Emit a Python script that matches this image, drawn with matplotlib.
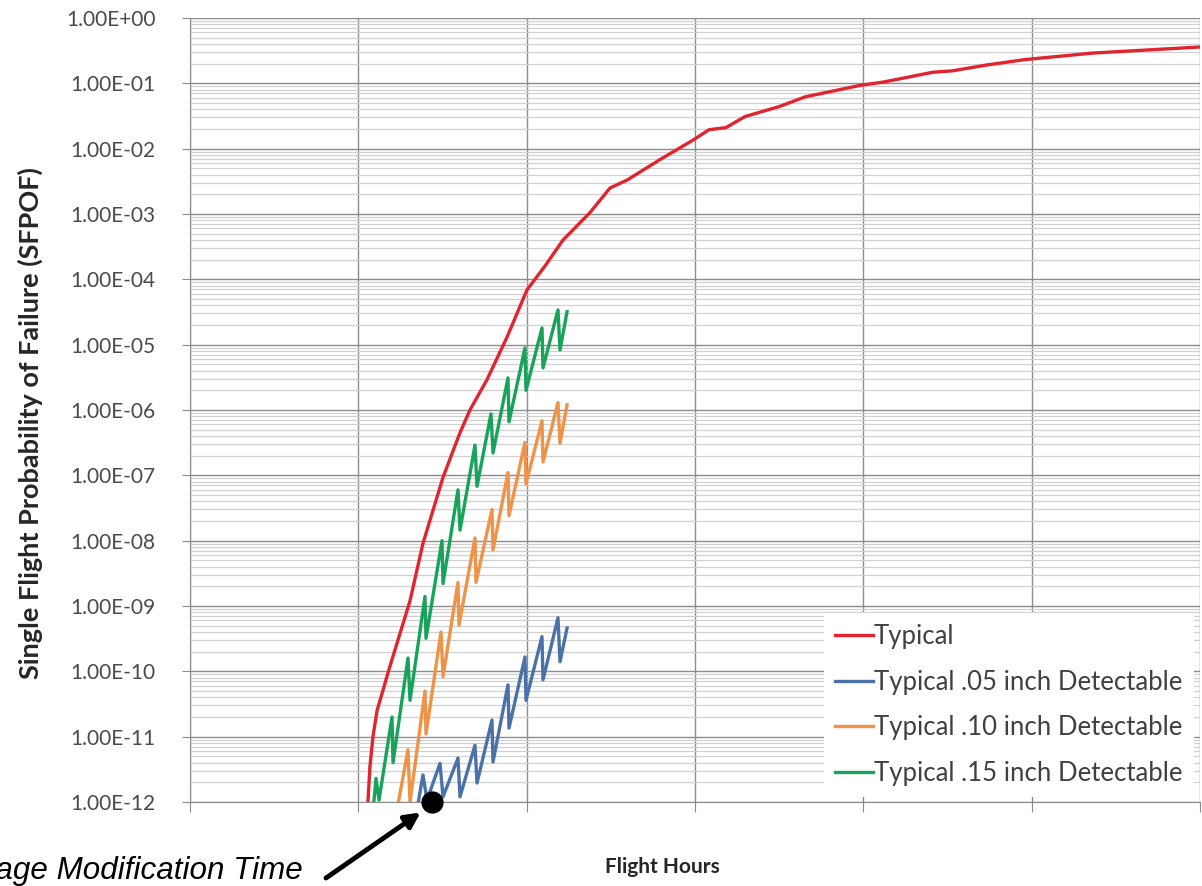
import numpy as np
import matplotlib
matplotlib.use("Agg")
import matplotlib.pyplot as plt
from matplotlib.ticker import LogLocator, FixedLocator, NullFormatter, FixedFormatter

# ---------------- data ----------------
typical_hours = [1045, 1057, 1069, 1087, 1111, 1188, 1307, 1384, 1503, 1604, 1663, 1764,
                 1883, 2002, 2109, 2216, 2376, 2495, 2596, 2792, 2988, 3083, 3184, 3297,
                 3499, 3654, 3980, 4123, 4414, 4527, 4729, 4955, 5359, 6000]
typical_sfpof = [5e-13, 1.0e-12, 3.5e-12, 1.0e-11, 2.5e-11, 1.2e-10, 1.2e-9, 9.1e-9, 9.3e-8,
                 4.5e-7, 1.0e-6, 2.9e-6, 1.3e-5, 6.9e-5, 1.6e-4, 4.0e-4, 1.05e-3, 2.5e-3,
                 3.3e-3, 6.8e-3, 1.35e-2, 1.95e-2, 2.1e-2, 3.1e-2, 4.4e-2, 6.2e-2, 9.3e-2,
                 0.105, 0.148, 0.155, 0.19, 0.23, 0.29, 0.36]

det05_hours = [1343, 1384, 1408, 1485, 1503, 1592, 1604, 1693, 1705, 1794, 1800, 1889,
               1895, 1990, 1996, 2091, 2097, 2186, 2198, 2240]
det05_sfpof = [6.3e-13, 2.6e-12, 1.07e-12, 3.9e-12, 1.2e-12, 4.7e-12, 1.2e-12, 7.4e-12,
               1.95e-12, 1.8e-11, 4.1e-12, 6.2e-11, 1.35e-11, 1.66e-10, 3.6e-11, 3.4e-10,
               7.4e-11, 6.6e-10, 1.4e-10, 4.6e-10]

det10_hours = [1224, 1295, 1307, 1396, 1402, 1491, 1503, 1592, 1598, 1693, 1699, 1794,
               1800, 1889, 1895, 1990, 1996, 2091, 2097, 2186, 2198, 2240]
det10_sfpof = [6.3e-13, 6.3e-12, 1.0e-12, 5.0e-11, 1.1e-11, 4.0e-10, 8.3e-11, 2.3e-9,
               5.1e-10, 1.1e-8, 2.3e-9, 3.0e-8, 7.2e-9, 1.1e-7, 2.4e-8, 3.2e-7, 7.4e-8,
               6.8e-7, 1.6e-7, 1.3e-6, 3.1e-7, 1.2e-6]

det15_hours = [1085, 1105, 1123, 1200, 1206, 1295, 1307, 1396, 1402, 1497, 1503, 1592,
               1604, 1693, 1705, 1788, 1800, 1889, 1895, 1990, 1996, 2091, 2097, 2186,
               2198, 2240]
det15_sfpof = [6.3e-13, 2.3e-12, 1.07e-12, 2.0e-11, 4.0e-12, 1.6e-10, 3.6e-11, 1.4e-9,
               3.2e-10, 1.0e-8, 2.2e-9, 6.0e-8, 1.45e-8, 2.9e-7, 6.8e-8, 8.7e-7, 2.2e-7,
               3.1e-6, 6.6e-7, 8.9e-6, 2.0e-6, 1.8e-5, 4.4e-6, 3.4e-5, 8.3e-6, 3.2e-5]

series_labels = ["Typical", "Typical .05 inch Detectable",
                 "Typical .10 inch Detectable", "Typical .15 inch Detectable"]
y_tick_values = [10.0 ** -k for k in range(0, 13)]
y_tick_labels = ["1.00E+00"] + ["1.00E-%02d" % k for k in range(1, 13)]
x_grid_hours = [0, 1000, 2000, 3000, 4000, 5000, 6000]
mod_time_hours = 1440
mod_time_sfpof = 1e-12
annotation_text = "Usage Modification Time"

# ---------------- figure ----------------
W, H, DPI = 1202, 886, 100
fig = plt.figure(figsize=(W / DPI, H / DPI), dpi=DPI)
ax = fig.add_axes([190 / W, 1 - 802 / H, (1200 - 190) / W, (802 - 18) / H])

colors = ["#E1242D", "#4A72A8", "#EE9347", "#17A35A"]
lw = 2.4
ax.plot(typical_hours, typical_sfpof, color=colors[0], lw=lw, label=series_labels[0],
        solid_joinstyle="round", zorder=5)
ax.plot(det05_hours, det05_sfpof, color=colors[1], lw=lw, label=series_labels[1],
        solid_joinstyle="round", zorder=4)
ax.plot(det10_hours, det10_sfpof, color=colors[2], lw=lw, label=series_labels[2],
        solid_joinstyle="round", zorder=4)
ax.plot(det15_hours, det15_sfpof, color=colors[3], lw=lw, label=series_labels[3],
        solid_joinstyle="round", zorder=4)

ax.set_yscale("log")
ax.set_ylim(1e-12, 1.0)
ax.set_xlim(0, 6000)

ax.yaxis.set_major_locator(FixedLocator(y_tick_values))
ax.yaxis.set_major_formatter(FixedFormatter(y_tick_labels))
ax.yaxis.set_minor_locator(LogLocator(base=10, subs=np.arange(2, 10), numticks=100))
ax.yaxis.set_minor_formatter(NullFormatter())
ax.xaxis.set_major_locator(FixedLocator(x_grid_hours))
ax.set_xticklabels([])

ax.grid(True, which="major", axis="y", color="#8c8c8c", lw=1.0, zorder=0)
ax.grid(True, which="minor", axis="y", color="#d0d0d0", lw=0.9, zorder=0)
ax.grid(True, which="major", axis="x", color="#8c8c8c", lw=1.0, zorder=0)
ax.set_axisbelow(True)

for side in ["top", "right"]:
    ax.spines[side].set_visible(False)
ax.spines["left"].set_color("#8c8c8c")
ax.spines["bottom"].set_color("#8c8c8c")

ax.tick_params(axis="y", which="major", length=6, color="#8c8c8c", labelsize=15,
               labelcolor="#4a4a4a", pad=19)
ax.tick_params(axis="y", which="minor", length=0)
ax.tick_params(axis="x", which="major", length=7, color="#8c8c8c")
for t in ax.get_yticklabels():
    t.set_family("Lato")

fig.text(30 / W, 1 - 423 / H, "Single Flight Probability of Failure (SFPOF)",
         rotation=90, ha="center", va="center", fontsize=19.5, fontweight="bold",
         family="Lato", color="#262626")
fig.text(662 / W, 1 - 873 / H, "Flight Hours", ha="center", va="baseline",
         fontsize=15, fontweight="bold", family="Lato", color="#262626")

leg = ax.legend(loc="lower right", bbox_to_anchor=(0.994, 0.006), frameon=True,
                fancybox=False, prop={"family": "Lato", "size": 18.5},
                handlelength=1.45, handletextpad=0.05, labelspacing=0.8,
                borderpad=0.45, borderaxespad=0.0)
leg.get_frame().set_facecolor("white")
leg.get_frame().set_edgecolor("none")
leg.get_frame().set_alpha(1.0)
for txt in leg.get_texts():
    txt.set_color("#404040")
leg.set_zorder(10)

# annotation: dot + arrow + italic text
ax.plot([mod_time_hours], [mod_time_sfpof], "o", color="black", ms=15,
        clip_on=False, zorder=12)
ax.annotate("", xy=(mod_time_hours - 70, 10 ** -12.16), xycoords="data",
            xytext=(326 / W, 1 - 878 / H), textcoords="figure fraction",
            arrowprops=dict(arrowstyle="-|>,head_length=0.9,head_width=0.45",
                            color="black", lw=3.5, shrinkA=0, shrinkB=0),
            annotation_clip=False, zorder=12)
fig.text(303 / W, 1 - 879 / H, annotation_text, ha="right", va="baseline",
         fontsize=22.6, style="italic", family="Liberation Sans", color="black")

fig.savefig("out.png", dpi=DPI)
